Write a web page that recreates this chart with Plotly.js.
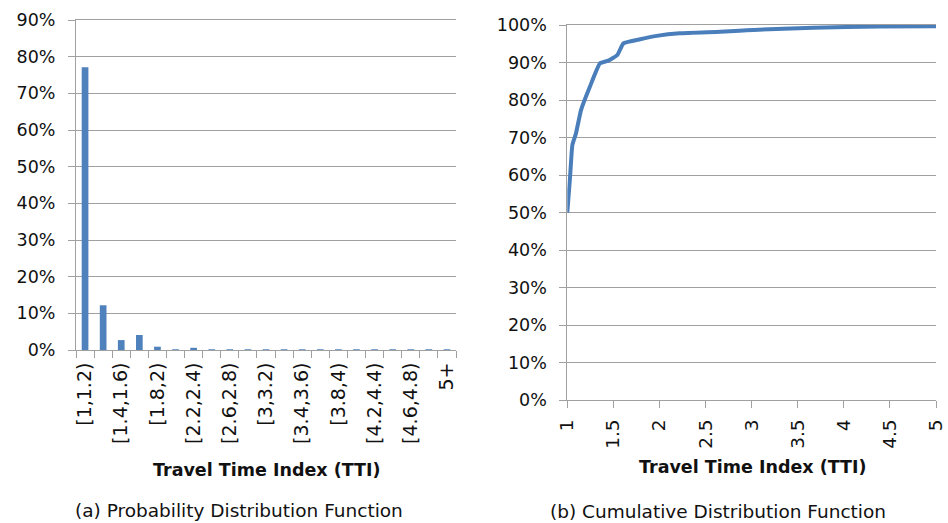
<!DOCTYPE html>
<html>
<head>
<meta charset="utf-8">
<script src="https://cdn.plot.ly/plotly-3.0.1.min.js"></script>
<style>
  html, body { margin: 0; padding: 0; background: #fff; }
  #chart { width: 948px; height: 523px; }
</style>
</head>
<body>
<div id="chart"></div>
<script>
// TTI bins for the probability distribution (PDF)
const binLabels = [
  '[1,1.2)', '[1.2,1.4)', '[1.4,1.6)', '[1.6,1.8)', '[1.8,2)', '[2,2.2)', '[2.2,2.4)',
  '[2.4,2.6)', '[2.6,2.8)', '[2.8,3)', '[3,3.2)', '[3.2,3.4)', '[3.4,3.6)', '[3.6,3.8)',
  '[3.8,4)', '[4,4.2)', '[4.2,4.4)', '[4.4,4.6)', '[4.6,4.8)', '[4.8,5)', '5+'
];
// share of observations in each bin
const pdfValues = [
  0.771, 0.122, 0.027, 0.041, 0.009, 0.002, 0.006,
  0.002, 0.002, 0.002, 0.002, 0.002, 0.002, 0.002,
  0.002, 0.002, 0.002, 0.002, 0.002, 0.002, 0.002
];

// cumulative distribution (CDF) sampled along TTI
const cdfTTI = [1.00, 1.03, 1.055, 1.094, 1.149, 1.246, 1.355, 1.445, 1.543, 1.609,
                1.79, 1.97, 2.22, 2.66, 2.87, 3.02, 3.67, 4.39, 5.00];
const cdfValues = [0.500, 0.595, 0.680, 0.711, 0.773, 0.836, 0.898, 0.905, 0.920, 0.951,
                   0.962, 0.971, 0.978, 0.982, 0.985, 0.987, 0.993, 0.996, 0.997];

const cdfTicks = [1, 1.5, 2, 2.5, 3, 3.5, 4, 4.5, 5];

const W = 948, H = 523;
const FONT = 'DejaVu Sans';
const GRID = '#a0a0a0';
const INK = '#111';
const px = (v) => v / W;
const py = (v) => 1 - v / H;

// show every other bin label
const shownLabels = binLabels.map((l, i) => (i % 2 === 0 ? l : ''));

const traces = [
  {
    type: 'bar',
    x: binLabels,
    y: pdfValues,
    width: 0.37,
    marker: { color: '#4f81bd' },
    xaxis: 'x', yaxis: 'y',
    hoverinfo: 'x+y'
  },
  {
    type: 'scatter',
    mode: 'lines',
    x: cdfTTI,
    y: cdfValues,
    line: { color: '#4a7ebb', width: 4, shape: 'spline', smoothing: 0.4 },
    xaxis: 'x2', yaxis: 'y2'
  }
];

const axisCommon = {
  showline: true,
  linecolor: GRID,
  linewidth: 1,
  ticks: 'outside',
  ticklen: 7,
  tickcolor: GRID,
  tickfont: { family: FONT, size: 17.5, color: INK },
  zeroline: false
};

const layout = {
  width: W,
  height: H,
  margin: { l: 0, r: 0, t: 0, b: 0 },
  paper_bgcolor: '#fff',
  plot_bgcolor: '#fff',
  showlegend: false,
  font: { family: FONT, color: INK },
  xaxis: Object.assign({}, axisCommon, {
    domain: [px(76), px(456)],
    type: 'category',
    range: [-0.5, binLabels.length - 0.5],
    tickmode: 'array',
    tickvals: binLabels,
    ticktext: shownLabels,
    tickson: 'boundaries',
    tickangle: -90,
    tickfont: { family: FONT, size: 19, color: INK },
    ticklabelstandoff: 4,
    showgrid: false,
    mirror: true,
    anchor: 'y'
  }),
  yaxis: Object.assign({}, axisCommon, {
    domain: [py(350), py(20)],
    range: [0, 0.9],
    dtick: 0.1,
    tickformat: '.0%',
    showgrid: true,
    gridcolor: GRID,
    ticklabelstandoff: 9,
    anchor: 'x'
  }),
  xaxis2: Object.assign({}, axisCommon, {
    domain: [px(567.3), px(936)],
    range: [1, 5],
    tickmode: 'array',
    tickvals: cdfTicks,
    ticktext: cdfTicks.map(String),
    tickangle: -90,
    tickfont: { family: FONT, size: 18.5, color: INK },
    ticklabelstandoff: 4,
    showgrid: false,
    mirror: true,
    anchor: 'y2'
  }),
  yaxis2: Object.assign({}, axisCommon, {
    domain: [py(400), py(25)],
    range: [0, 1],
    dtick: 0.1,
    tickformat: '.0%',
    showgrid: true,
    gridcolor: GRID,
    ticklabelstandoff: 9,
    anchor: 'x2'
  }),
  annotations: [
    {
      text: '<b>Travel Time Index (TTI)</b>', xref: 'paper', yref: 'paper',
      x: px(266), y: py(470), xanchor: 'center', yanchor: 'middle', showarrow: false,
      font: { family: FONT, size: 17.5, color: INK }
    },
    {
      text: '<b>Travel Time Index (TTI)</b>', xref: 'paper', yref: 'paper',
      x: px(752), y: py(467), xanchor: 'center', yanchor: 'middle', showarrow: false,
      font: { family: FONT, size: 17.5, color: INK }
    },
    {
      text: '(a) Probability Distribution Function', xref: 'paper', yref: 'paper',
      x: px(239), y: py(510), xanchor: 'center', yanchor: 'middle', showarrow: false,
      font: { family: FONT, size: 18.5, color: INK }
    },
    {
      text: '(b) Cumulative Distribution Function', xref: 'paper', yref: 'paper',
      x: px(718), y: py(511), xanchor: 'center', yanchor: 'middle', showarrow: false,
      font: { family: FONT, size: 18.5, color: INK }
    }
  ]
};

Plotly.newPlot('chart', traces, layout, { displayModeBar: false, staticPlot: true });
</script>
</body>
</html>
